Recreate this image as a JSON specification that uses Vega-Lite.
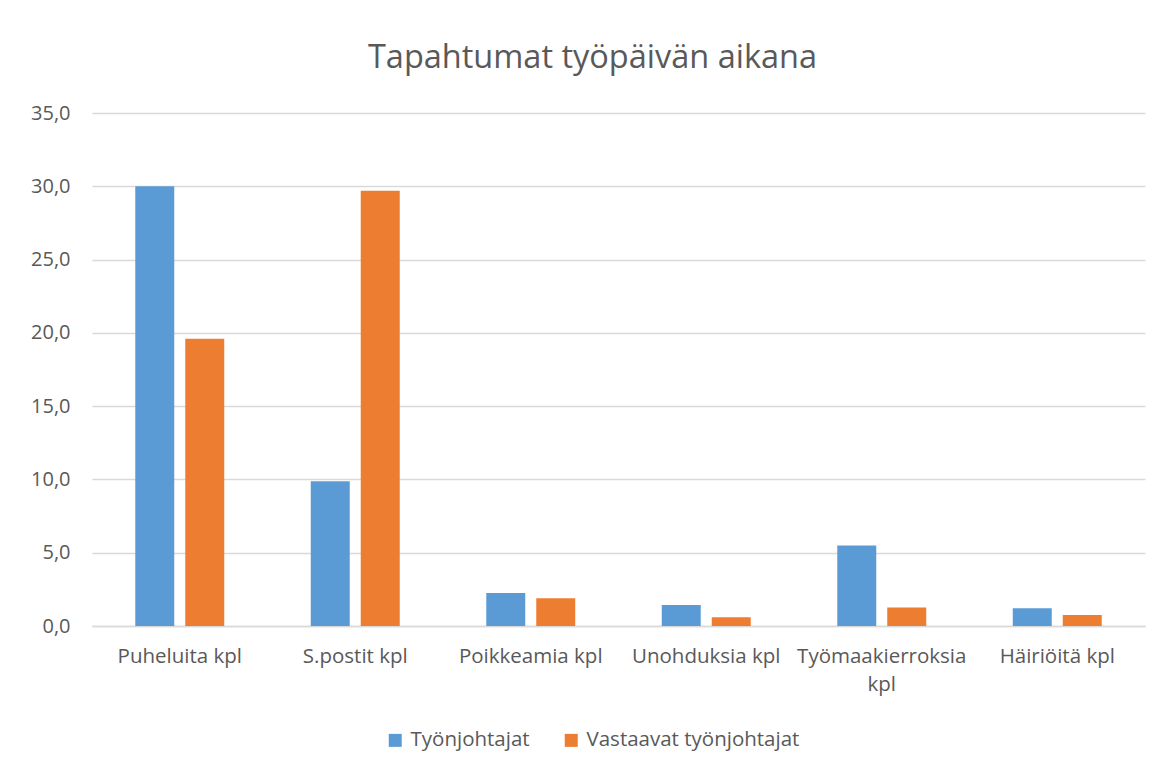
{
  "$schema": "https://vega.github.io/schema/vega-lite/v6.json",
  "width": 1053,
  "height": 513,
  "autosize": {"type": "none"},
  "padding": {"left": 92, "top": 113, "right": 18, "bottom": 143},
  "background": "white",
  "title": {
    "text": "Tapahtumat työpäivän aikana",
    "font": "Open Sans",
    "fontSize": 32.5,
    "fontWeight": "normal",
    "color": "#595959",
    "anchor": "middle",
    "offset": 29,
    "dx": -26
  },
  "data": {
    "values": [
      {"kategoria": "Puheluita kpl", "ryhma": "Työnjohtajat", "arvo": 30.0},
      {"kategoria": "Puheluita kpl", "ryhma": "Vastaavat työnjohtajat", "arvo": 19.6},
      {"kategoria": "S.postit kpl", "ryhma": "Työnjohtajat", "arvo": 9.87},
      {"kategoria": "S.postit kpl", "ryhma": "Vastaavat työnjohtajat", "arvo": 29.7},
      {"kategoria": "Poikkeamia kpl", "ryhma": "Työnjohtajat", "arvo": 2.25},
      {"kategoria": "Poikkeamia kpl", "ryhma": "Vastaavat työnjohtajat", "arvo": 1.89},
      {"kategoria": "Unohduksia kpl", "ryhma": "Työnjohtajat", "arvo": 1.43},
      {"kategoria": "Unohduksia kpl", "ryhma": "Vastaavat työnjohtajat", "arvo": 0.59},
      {"kategoria": "Työmaakierroksia kpl", "ryhma": "Työnjohtajat", "arvo": 5.5},
      {"kategoria": "Työmaakierroksia kpl", "ryhma": "Vastaavat työnjohtajat", "arvo": 1.26},
      {"kategoria": "Häiriöitä kpl", "ryhma": "Työnjohtajat", "arvo": 1.21},
      {"kategoria": "Häiriöitä kpl", "ryhma": "Vastaavat työnjohtajat", "arvo": 0.75}
    ]
  },
  "mark": {"type": "bar"},
  "encoding": {
    "x": {
      "field": "kategoria",
      "type": "nominal",
      "sort": null,
      "scale": {"paddingInner": 0.493, "paddingOuter": 0.2465},
      "axis": {
        "title": null,
        "labelAngle": 0,
        "labelPadding": 20,
        "labelFont": "Open Sans",
        "labelFontSize": 20.5,
        "labelColor": "#595959",
        "labelLineHeight": 28,
        "labelLimit": 300,
        "labelExpr": "length(datum.value) > 16 ? split(datum.value, ' ') : datum.value",
        "ticks": false,
        "domain": true,
        "domainColor": "#d9d9d9",
        "domainWidth": 1.5,
        "grid": false
      }
    },
    "xOffset": {
      "field": "ryhma",
      "scale": {"paddingInner": 0.22, "paddingOuter": 0}
    },
    "y": {
      "field": "arvo",
      "type": "quantitative",
      "scale": {"domain": [0, 35], "nice": false},
      "axis": {
        "title": null,
        "values": [0, 5, 10, 15, 20, 25, 30, 35],
        "labelExpr": "replace(format(datum.value, '.1f'), '.', ',')",
        "labelFont": "Open Sans",
        "labelFontSize": 20,
        "labelColor": "#595959",
        "labelPadding": 22,
        "ticks": false,
        "domain": false,
        "grid": true,
        "gridColor": "#d9d9d9",
        "gridWidth": 1.3
      }
    },
    "color": {
      "field": "ryhma",
      "type": "nominal",
      "scale": {
        "domain": ["Työnjohtajat", "Vastaavat työnjohtajat"],
        "range": ["#5B9BD5", "#ED7D31"]
      },
      "legend": {
        "title": null,
        "orient": "none",
        "legendX": 293,
        "legendY": 617,
        "direction": "horizontal",
        "symbolType": "square",
        "symbolSize": 169,
        "symbolStrokeWidth": 0,
        "labelFont": "Open Sans",
        "labelFontSize": 20.5,
        "labelColor": "#595959",
        "labelOffset": 5,
        "labelLimit": 400,
        "columnPadding": 31
      }
    }
  },
  "config": {"view": {"stroke": null}}
}
